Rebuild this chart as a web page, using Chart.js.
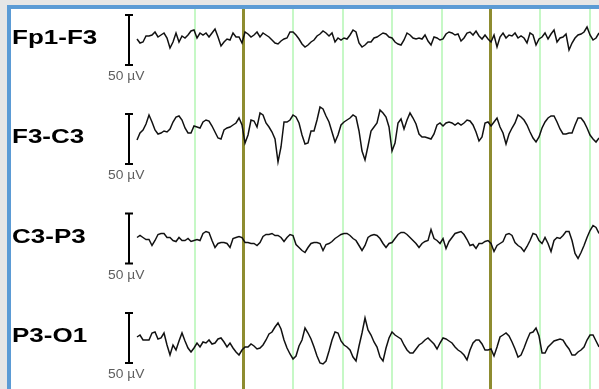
<!DOCTYPE html>
<html>
<head>
<meta charset="utf-8">
<script src="https://cdn.jsdelivr.net/npm/chart.js@4.4.1/dist/chart.umd.min.js"></script>
<style>
  html, body { margin: 0; padding: 0; background: #e6e6e6; overflow: hidden; }
  #frame { position: absolute; left: 7px; top: 5px; width: 600px; height: 400px; background: #fff;
           border-top: 4px solid #5b9bd5; border-left: 4px solid #5b9bd5; }
  #eeg { position: absolute; left: 12px; top: 9px; }
</style>
</head>
<body>
<div id="frame"></div>
<canvas id="eeg" width="587" height="380"></canvas>
<script>
// montage, one trace per row
const channelNames = ['Fp1-F3', 'F3-C3', 'C3-P3', 'P3-O1'];

const sampleRate = 82.33;   // samples per second
const startTime = 0.567;    // s, first sample
const gridTimes = [0.8, 1.0, 1.2, 1.4, 1.6, 1.8, 2.0, 2.2, 2.4];
const scaleBar = 50;        // µV

// amplitudes in µV (positive = up)
const fp1F3 = [1, -3, -2, 4, 4, 5, 8, 3, 5, 7,
  2, -8, -2, 7, -2, 4, 2, 5, 9, 10,
  2, 7, 5, 7, 3, 7, 11, 3, -6, -2,
  1, 0, 7, 3, 3, -3, 8, 6, 3, 5,
  8, 3, 7, 5, 3, 0, -3, -4, -1, 1,
  2, 8, 8, 5, 1, -4, -7, -5, -2, 0,
  4, 6, 9, 7, 4, 7, -2, 2, 0, 2,
  1, 5, 10, 8, -3, -7, -5, -2, -2, 2,
  3, 5, 7, 6, 3, 2, -2, -4, -5, 0,
  7, 5, 2, 1, 2, 1, 5, -1, -5, 3,
  2, 0, 1, 6, 8, 7, 5, 6, -1, 2,
  7, 8, 5, 9, 4, 1, 5, 1, -2, 5,
  -7, 3, 7, 2, 5, 4, 7, 2, 4, 2,
  -3, 7, 5, -5, 1, 3, 7, 1, 6, 10,
  -2, 2, 3, 6, -10, -3, 2, 5, 6, 8,
  13, 5, 0, 2, 7];

const f3C3 = [-1, 6, 9, 15, 24, 17, 9, 5, 6, 8,
  7, 10, 17, 22, 23, 19, 11, 6, 6, 13,
  12, 11, 17, 19, 18, 13, 7, 1, 0, 9,
  11, 12, 14, 16, 21, 14, -4, 4, 19, 18,
  12, 26, 24, 16, 12, 7, 0, -23, -8, 17,
  17, 19, 24, 22, 16, 4, -5, -4, 8, 8,
  19, 32, 30, 23, 17, 7, -3, 4, 14, 17,
  19, 21, 24, 22, 8, -12, -21, -7, 8, 12,
  16, 29, 26, 22, 12, -12, -4, 16, 20, 10,
  19, 26, 21, 15, 5, 2, 2, 1, 0, 5,
  14, 16, 13, 16, 17, 16, 14, 16, 14, 16,
  19, 18, 14, 7, -2, 2, 16, 17, 13, 17,
  21, 12, 6, -5, 5, 11, 16, 24, 22, 19,
  14, 7, 1, -3, 2, 11, 17, 21, 23, 23,
  17, 10, 5, 5, 6, 6, 14, 21, 21, 17,
  11, 4, 0, -3, 1];

const c3P3 = [1, 3, 1, -1, -1, -7, -2, 4, 5, 5,
  1, 1, -2, -3, 1, -2, -2, 0, -3, -2,
  -1, -2, 5, 7, 6, -2, -9, -5, -4, -4,
  -5, -9, 0, 1, 2, 1, -4, -4, -5, -5,
  -7, -4, 2, 4, 4, 5, 3, 3, 1, -3,
  1, 4, 3, -6, -9, -12, -14, -9, -5, -4,
  -4, -5, -12, -6, -5, -3, 0, 2, 4, 5,
  5, 3, 0, -2, -7, -12, -7, 1, 3, 4,
  3, 0, -5, -9, -5, -4, 0, 4, 6, 6,
  4, 1, -2, -5, -9, -5, -3, -2, 9, 0,
  -2, -5, 0, -10, -3, 1, 5, 6, 7, 4,
  -1, -7, -6, -10, -5, -5, -3, -2, -5, -13,
  -7, -5, -3, 4, 5, 3, -4, -7, -9, -13,
  -8, -2, 5, 4, -2, -5, 1, -5, -13, -2,
  1, 0, 3, 7, 7, -2, -15, -20, -14, -7,
  1, 8, 13, 11, 5];

const p3O1 = [1, 3, -2, -2, -2, 5, 6, -1, 0, 5,
  -7, -17, -7, -12, -3, 5, -3, -10, -14, -10,
  -5, -9, -4, -5, -2, -6, -5, -1, 0, -4,
  -9, -5, -10, -14, -17, -12, -9, -9, -6, -8,
  -11, -10, -7, -2, 4, 6, 11, 15, 9, -2,
  -10, -16, -21, -18, -8, -2, 10, 5, -1, -9,
  -18, -25, -26, -23, -13, -2, 6, 5, -3, -7,
  -9, -12, -19, -23, -8, 5, 20, 8, 3, -4,
  -9, -19, -23, -10, 0, 6, 3, 1, -1, -7,
  -12, -15, -15, -11, -7, -5, -2, 0, -3, -6,
  -11, -5, 0, -1, -3, -5, -9, -12, -14, -17,
  -22, -12, -5, -2, -2, -6, -12, -12, -11, -18,
  -9, 1, 3, 5, 2, -4, -11, -19, -17, -10,
  -2, 5, 6, 10, 2, -15, -15, -9, -6, -3,
  -2, -1, -2, -7, -11, -17, -17, -14, -12, -9,
  -2, 3, 3, -3, -9];

const traces = [fp1F3, f3C3, c3P3, p3O1];

// vertical layout: row baselines in the 380 px tall plot (1 px per µV)
const rowOffsets = [-31, -130, -229.5, -329];

const datasets = traces.map((vals, k) => ({
  label: channelNames[k],
  data: vals.map((v, i) => ({ x: startTime + i / sampleRate, y: rowOffsets[k] + v })),
  borderColor: '#111',
  borderWidth: 1.5,
  pointRadius: 0,
  tension: 0,
  fill: false
}));

const isSecond = v => Math.abs(v - Math.round(v)) < 1e-6;

const rowLabels = {
  id: 'rowLabels',
  afterDatasetsDraw(chart) {
    const ctx = chart.ctx;
    const y = chart.scales.y;
    ctx.save();
    rowOffsets.forEach((off, k) => {
      const top = y.getPixelForValue(off + scaleBar / 2);
      const bottom = y.getPixelForValue(off - scaleBar / 2);
      const mid = y.getPixelForValue(off);
      // calibration bar
      ctx.strokeStyle = '#000';
      ctx.lineWidth = 2;
      ctx.beginPath();
      ctx.moveTo(117, top); ctx.lineTo(117, bottom);
      ctx.moveTo(113, top); ctx.lineTo(121, top);
      ctx.moveTo(113, bottom); ctx.lineTo(121, bottom);
      ctx.stroke();
      // channel name
      ctx.fillStyle = '#000';
      ctx.font = 'bold 20px "Liberation Sans", Arial, sans-serif';
      ctx.textBaseline = 'alphabetic';
      ctx.save();
      ctx.translate(0, mid + 4);
      ctx.scale(1.3, 1);
      ctx.fillText(channelNames[k], 0, 0);
      ctx.restore();
      // bar units
      ctx.fillStyle = '#5e5e5e';
      ctx.font = '12px "Liberation Sans", Arial, sans-serif';
      ctx.save();
      ctx.translate(96, bottom + 15);
      ctx.scale(1.15, 1);
      ctx.fillText(scaleBar + ' µV', 0, 0);
      ctx.restore();
    });
    ctx.restore();
  }
};

new Chart(document.getElementById('eeg'), {
  type: 'line',
  data: { datasets },
  options: {
    responsive: false,
    animation: false,
    devicePixelRatio: 1,
    layout: { padding: 0 },
    plugins: { legend: { display: false }, tooltip: { enabled: false } },
    scales: {
      x: {
        type: 'linear',
        min: 0.0609,
        max: 0.0609 + 587 / 247,
        afterBuildTicks: axis => { axis.ticks = gridTimes.map(v => ({ value: v })); },
        ticks: { display: false },
        border: { display: false },
        grid: {
          drawTicks: false,
          color: c => isSecond(c.tick.value) ? '#8e8c30' : '#c6f8c6',
          lineWidth: c => isSecond(c.tick.value) ? 3 : 2
        }
      },
      y: { display: false, min: -380, max: 0 }
    }
  },
  plugins: [rowLabels]
});
</script>
</body>
</html>
